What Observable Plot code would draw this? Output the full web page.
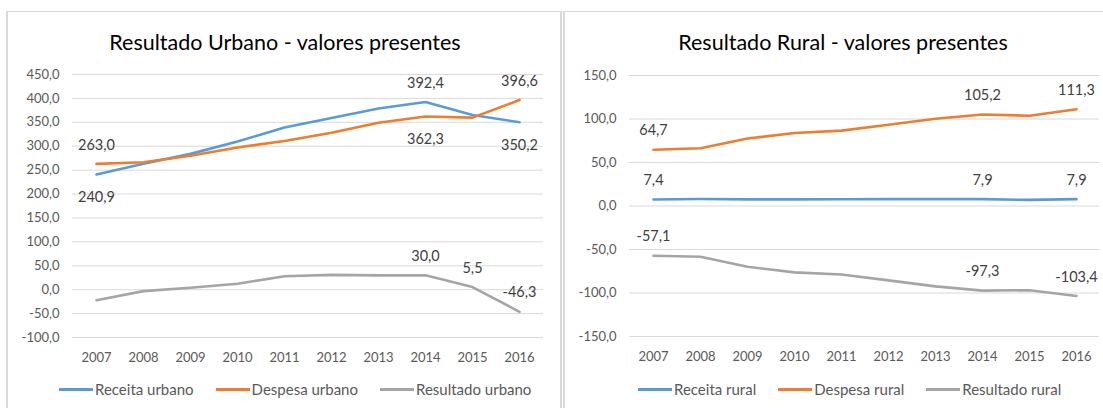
<!DOCTYPE html>
<html><head><meta charset="utf-8">
<script src="https://cdn.jsdelivr.net/npm/d3@7"></script>
<script src="https://cdn.jsdelivr.net/npm/@observablehq/plot@0.6"></script>
<style>
body{margin:0;background:#fff;font-family:Lato,"Open Sans",sans-serif;position:relative;width:1103px;height:408px;overflow:hidden}
.panel{position:absolute;border:2px solid #D9D9D9;border-top-width:1px;box-sizing:border-box}
.title{position:absolute;font-size:21.5px;line-height:26px;color:#000;text-align:center;white-space:nowrap}
.chart{position:absolute}
.legend{position:absolute;display:flex;align-items:center;font-size:15px;line-height:18px;color:#595959;white-space:nowrap}
.item{display:flex;align-items:center;margin-right:22px}
.sw{display:inline-block;width:34px;height:3px;margin-right:2px}
</style></head><body>
<div class="panel" style="left:6px;top:11px;width:556px;height:420px"></div>
<div class="panel" style="left:563px;top:11px;width:560px;height:420px"></div>
<div class="title" id="t1" style="left:8px;top:29px;width:554px"></div>
<div class="title" id="t2" style="left:565px;top:29px;width:556px"></div>
<div class="chart" id="c1" style="left:8px;top:60px"></div>
<div class="chart" id="c2" style="left:565px;top:60px"></div>
<div class="legend" id="l1" style="left:59px;top:380px"></div>
<div class="legend" id="l2" style="left:638px;top:380px"></div>
<script>
const years = [2007, 2008, 2009, 2010, 2011, 2012, 2013, 2014, 2015, 2016];

const urbanTitle = "Resultado Urbano - valores presentes";
const urbanNames = ["Receita urbano", "Despesa urbano", "Resultado urbano"];
const receitaUrbano = [240.9, 263.5, 284.0, 310.0, 339.0, 359.0, 379.0, 392.4, 365.3, 350.2];
const despesaUrbano = [263.0, 266.5, 280.0, 297.5, 311.0, 328.0, 349.0, 362.3, 359.8, 396.6];
const resultadoUrbano = [-22.1, -3.0, 4.0, 12.5, 28.0, 31.0, 30.0, 30.0, 5.5, -46.3];
const urbanTicks = [-100, -50, 0, 50, 100, 150, 200, 250, 300, 350, 400, 450];

const ruralTitle = "Resultado Rural - valores presentes";
const ruralNames = ["Receita rural", "Despesa rural", "Resultado rural"];
const receitaRural = [7.4, 8.0, 7.6, 7.6, 7.8, 7.9, 7.9, 7.9, 7.0, 7.9];
const despesaRural = [64.7, 66.4, 77.5, 83.9, 86.6, 93.4, 100.3, 105.2, 103.8, 111.3];
const resultadoRural = [-57.1, -58.4, -69.9, -76.3, -78.8, -85.5, -92.4, -97.3, -96.8, -103.4];
const ruralTicks = [-150, -100, -50, 0, 50, 100, 150];

const colors = ["#5B9BD5", "#ED7D31", "#A5A5A5"];
const fmt = d => d.toFixed(1).replace(".", ",");

// which points carry a data label: [series index, year, placement]
const urbanLabelSpec = [[1,2007,"above"],[0,2007,"below"],[0,2014,"above"],[1,2014,"below"],
  [1,2016,"above"],[0,2016,"below"],[2,2014,"above"],[2,2015,"above"],[2,2016,"above"]];
const ruralLabelSpec = [[1,2007,"above"],[0,2007,"above"],[2,2007,"above"],
  [1,2014,"above"],[0,2014,"above"],[2,2014,"above"],
  [1,2016,"above"],[0,2016,"above"],[2,2016,"above"]];

function rowsOf(names, arrays) {
  const rows = [];
  names.forEach((n, i) => years.forEach((y, j) => rows.push({series: n, year: y, value: arrays[i][j]})));
  return rows;
}

function makeChart({names, arrays, ticks, domain, spec, width, marginRight, marginTop, marginBottom}) {
  const rows = rowsOf(names, arrays);
  const find = (si, y) => rows.find(r => r.series === names[si] && r.year === y);
  const above = spec.filter(s => s[2] === "above").map(s => find(s[0], s[1]));
  const below = spec.filter(s => s[2] === "below").map(s => find(s[0], s[1]));
  return Plot.plot({
    width, height: 307, marginLeft: 64, marginRight, marginTop, marginBottom,
    style: {color: "#595959", fontFamily: "Lato, 'Open Sans', sans-serif", fontSize: "13px", background: "transparent", overflow: "visible"},
    x: {type: "point", domain: years, padding: 0.5, label: null},
    y: {domain, label: null},
    color: {domain: names, range: colors},
    marks: [
      Plot.ruleY(ticks, {stroke: "#D9D9D9", strokeWidth: 1}),
      Plot.axisY({ticks, tickSize: 0, tickPadding: 13, tickFormat: fmt, label: null}),
      Plot.axisX({tickSize: 0, tickPadding: 15, tickFormat: d => String(d), label: null}),
      Plot.line(rows, {x: "year", y: "value", z: "series", stroke: "series", strokeWidth: 2.6, strokeLinejoin: "round", strokeLinecap: "round"}),
      Plot.text(above, {x: "year", y: "value", text: d => fmt(d.value), dy: -19, fontSize: 14.5, fill: "#404040"}),
      Plot.text(below, {x: "year", y: "value", text: d => fmt(d.value), dy: 23, fontSize: 14.5, fill: "#404040"})
    ]
  });
}

function legend(el, names) {
  names.forEach((n, i) => {
    const it = document.createElement("div"); it.className = "item";
    const sw = document.createElement("span"); sw.className = "sw"; sw.style.background = colors[i];
    const tx = document.createElement("span"); tx.textContent = n;
    it.append(sw, tx); el.append(it);
  });
}

document.getElementById("t1").textContent = urbanTitle;
document.getElementById("t2").textContent = ruralTitle;
document.getElementById("c1").append(makeChart({
  names: urbanNames, arrays: [receitaUrbano, despesaUrbano, resultadoUrbano],
  ticks: urbanTicks, domain: [-100, 450], spec: urbanLabelSpec,
  width: 548, marginRight: 13, marginTop: 14, marginBottom: 30
}));
document.getElementById("c2").append(makeChart({
  names: ruralNames, arrays: [receitaRural, despesaRural, resultadoRural],
  ticks: ruralTicks, domain: [-150, 150], spec: ruralLabelSpec,
  width: 538, marginRight: 4, marginTop: 15, marginBottom: 31
}));
legend(document.getElementById("l1"), urbanNames);
legend(document.getElementById("l2"), ruralNames);
</script>
</body></html>
